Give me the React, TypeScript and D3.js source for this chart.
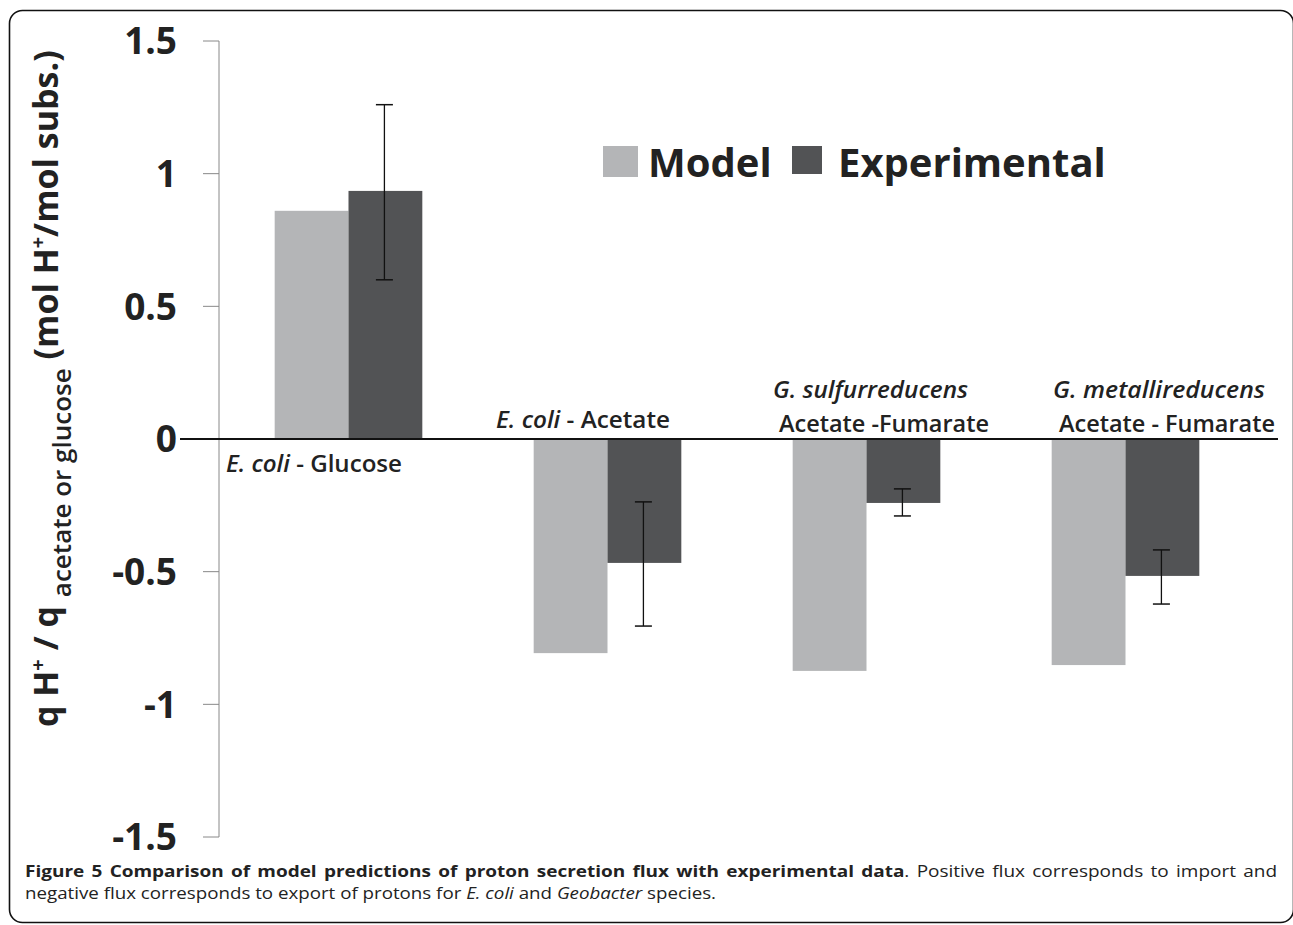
import React from "react";
import * as d3 from "d3";

const categories = ["glucose", "acetate", "gsulf", "gmetal"];
const modelValues = [0.86, -0.807, -0.874, -0.852];
const expValues = [0.935, -0.467, -0.241, -0.516];
const errLow = [0.6, -0.705, -0.29, -0.622];
const errHigh = [1.26, -0.237, -0.188, -0.418];
const yTicks = [1.5, 1, 0.5, 0, -0.5, -1, -1.5];
const seriesNames = ["Model", "Experimental"];

const W = 1293;
const H = 925;
const FONT = "'Open Sans', 'DejaVu Sans', sans-serif";
const MODEL_C = "#b4b5b7";
const EXP_C = "#525355";

export default function App() {
  const y = d3.scaleLinear().domain([-1.5, 1.5]).range([837, 41]);
  const x = d3
    .scaleBand<string>()
    .domain(categories)
    .range([219, 1255])
    .paddingInner(0.43)
    .paddingOuter(0.215);
  const xs = d3.scaleBand<string>().domain(seriesNames).range([0, x.bandwidth()]);
  const bw = xs.bandwidth();

  const bar = (v: number) => ({ y: Math.min(y(v), y(0)), h: Math.abs(y(v) - y(0)) });

  return (
    <svg width={W} height={H} style={{ position: "absolute", left: 0, top: 0 }} fontFamily={FONT}>
      <rect x={0} y={0} width={W} height={H} fill="#fff" />
      <rect x={9.5} y={10.5} width={1284} height={912} rx={13} fill="none" stroke="#111" strokeWidth={1.6} />

      {/* y axis */}
      <line x1={219} x2={219} y1={y(1.5)} y2={y(-1.5)} stroke="#888" strokeWidth={1} />
      {yTicks.map((t) => (
        <g key={t}>
          {t !== 0 && <line x1={203} x2={219} y1={y(t)} y2={y(t)} stroke="#888" strokeWidth={1} />}
          <text
            x={177}
            y={y(t)}
            dy="0.36em"
            textAnchor="end"
            fontSize={37}
            fontWeight={700}
            fill="#222"
          >
            {t === 0 ? "0" : String(t)}
          </text>
        </g>
      ))}

      {/* bars */}
      {categories.map((c, i) => {
        const x0 = x(c)!;
        const m = bar(modelValues[i]);
        const e = bar(expValues[i]);
        const ex = x0 + xs("Experimental")! + bw / 2 - 1;
        return (
          <g key={c}>
            <rect x={x0 + xs("Model")!} y={m.y} width={bw} height={m.h} fill={MODEL_C} />
            <rect x={x0 + xs("Experimental")!} y={e.y} width={bw} height={e.h} fill={EXP_C} />
            <line x1={ex} x2={ex} y1={y(errHigh[i])} y2={y(errLow[i])} stroke="#111" strokeWidth={1.3} />
            <line x1={ex - 8.5} x2={ex + 8.5} y1={y(errHigh[i])} y2={y(errHigh[i])} stroke="#111" strokeWidth={1.5} />
            <line x1={ex - 8.5} x2={ex + 8.5} y1={y(errLow[i])} y2={y(errLow[i])} stroke="#111" strokeWidth={1.5} />
          </g>
        );
      })}

      {/* zero line */}
      <line x1={180} x2={1278} y1={y(0)} y2={y(0)} stroke="#111" strokeWidth={2} />

      {/* category labels */}
      <g fontSize={24} fontWeight={600} fill="#222">
        <text x={226} y={472} textLength={176} lengthAdjust="spacingAndGlyphs">
          <tspan fontStyle="italic">E. coli</tspan> - Glucose
        </text>
        <text x={496} y={428} textLength={174} lengthAdjust="spacingAndGlyphs">
          <tspan fontStyle="italic">E. coli</tspan> - Acetate
        </text>
        <text x={773} y={398} fontStyle="italic" textLength={195} lengthAdjust="spacingAndGlyphs">G. sulfurreducens</text>
        <text x={779} y={432} textLength={210} lengthAdjust="spacingAndGlyphs">Acetate -Fumarate</text>
        <text x={1053} y={398} fontStyle="italic" textLength={212} lengthAdjust="spacingAndGlyphs">G. metallireducens</text>
        <text x={1059} y={432} textLength={216} lengthAdjust="spacingAndGlyphs">Acetate - Fumarate</text>
      </g>

      {/* legend */}
      <rect x={603} y={146} width={35} height={31} fill={MODEL_C} />
      <text x={648} y={177} fontSize={40} fontWeight={700} fill="#222">{seriesNames[0]}</text>
      <rect x={792} y={146} width={30} height={28} fill={EXP_C} />
      <text x={838} y={177} fontSize={40} fontWeight={700} fill="#222">{seriesNames[1]}</text>

      {/* y axis title */}
      <text
        transform="translate(58,727) rotate(-90)"
        fontSize={34}
        fontWeight={700}
        fill="#222"
      >
        q H<tspan dy={-13} fontSize={20}>+</tspan>
        <tspan dy={13}> / q </tspan>
        <tspan dy={13} fontSize={26} fontWeight={600}>acetate or  glucose</tspan>
        <tspan dy={-13}> (mol H</tspan>
        <tspan dy={-13} fontSize={20}>+</tspan>
        <tspan dy={13}>/mol subs.)</tspan>
      </text>

      {/* caption */}
      <g fontSize={16} fill="#222">
        <text x={25} y={877} wordSpacing={2} textLength={1252} lengthAdjust="spacingAndGlyphs">
          <tspan fontWeight={700}>Figure 5 Comparison of model predictions of proton secretion flux with experimental data</tspan>. Positive flux corresponds to import and
        </text>
        <text x={25} y={899} textLength={691} lengthAdjust="spacingAndGlyphs">
          negative flux corresponds to export of protons for <tspan fontStyle="italic">E. coli</tspan> and{" "}
          <tspan fontStyle="italic">Geobacter</tspan> species.
        </text>
      </g>
    </svg>
  );
}
